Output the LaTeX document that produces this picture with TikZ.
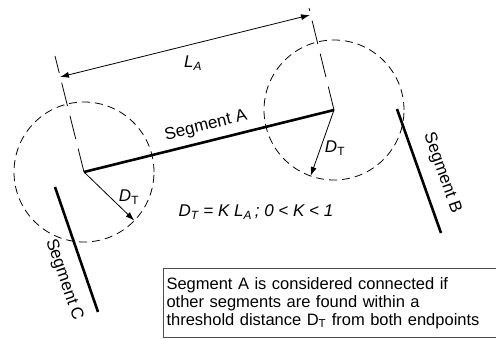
\documentclass[tikz,border=0pt]{standalone}
\usepackage{fontspec}
\setmainfont{Liberation Sans}
\usepackage{tikz}
\usetikzlibrary{arrows.meta}

\begin{document}
\begin{tikzpicture}[x=1pt,y=-1pt,
		seg/.style={line width=2.6pt},
		zone/.style={dash pattern=on 8pt off 5pt,line width=0.8pt},
		ext/.style={dash pattern=on 24pt off 10pt,line width=0.8pt},
		dimarrow/.style={{Latex[length=9pt,width=6pt]}-{Latex[length=9pt,width=6pt]},line width=0.8pt},
		radarrow/.style={-{Latex[length=9pt,width=6pt]},line width=0.8pt},
		lbl/.style={font=\fontsize{17}{18}\selectfont,inner sep=0pt}]
		\useasboundingbox (0,0) rectangle (496,339);
		% threshold radius
		\def\DT{70}
		
		% endpoints of the segments
		\coordinate (A1) at (84,172);
		\coordinate (A2) at (334,110);
		\coordinate (B1) at (397,109);
		\coordinate (B2) at (441,233);
		\coordinate (C1) at (55,187);
		\coordinate (C2) at (98,312);
		
		% threshold circles round both endpoints of A
		\draw[zone] (A1) circle[radius=\DT pt];
		\draw[zone] (A2) circle[radius=\DT pt];
		
		% the segments
		\draw[seg] (A1) -- (A2);
		\draw[seg] (B1) -- (B2);
		\draw[seg] (C1) -- (C2);
		
		% dimension L_A
		\coordinate (E1) at (55,56);
		\coordinate (E2) at (309,8);
		\coordinate (D1) at (60,77);
		\coordinate (D2) at (310,15);
		\draw[ext] (A1) -- (E1);
		\draw[ext] (A2) -- (E2);
		\draw[dimarrow] (D1) -- (D2);
		\node[lbl] (la) at (193,63) {\textit{L}\textsubscript{\textit{A}}};
		
		% radius arrows
		\coordinate (R1) at ([shift={(44:\DT)}]A1);
		\coordinate (R2) at ([shift={(109.5:\DT)}]A2);
		\draw[radarrow] (A1) -- (R1);
		\draw[radarrow] (A2) -- (R2);
		\node[lbl] (dtl) at (129,197) {\textit{D}\textsubscript{T}};
		\node[lbl] (dtr) at (335,148) {\textit{D}\textsubscript{T}};
		
		% labels
		\node[lbl,rotate=13.9] (sa) at (206,126) {Segment A};
		\node[lbl,rotate=-70.5] (sb) at (442,173) {Segment B};
		\node[lbl,rotate=-71] (sc) at (64,280) {Segment C};
		\node[lbl] (rule) at (256,212) {\textit{D\textsubscript{T} = K L\textsubscript{A}\,; 0 < K < 1}};
		
		% note
		\node[draw=black!70,line width=1pt,anchor=north west,inner xsep=3pt,inner ysep=0pt,
		text width=328pt,minimum height=69pt,align=left,
		font=\fontsize{16.5}{18}\selectfont] (note) at (163,268)
		{Segment A is considered connected if\\other segments are found within a\\threshold distance D\textsubscript{T} from both endpoints};
	\end{tikzpicture}
\end{document}
